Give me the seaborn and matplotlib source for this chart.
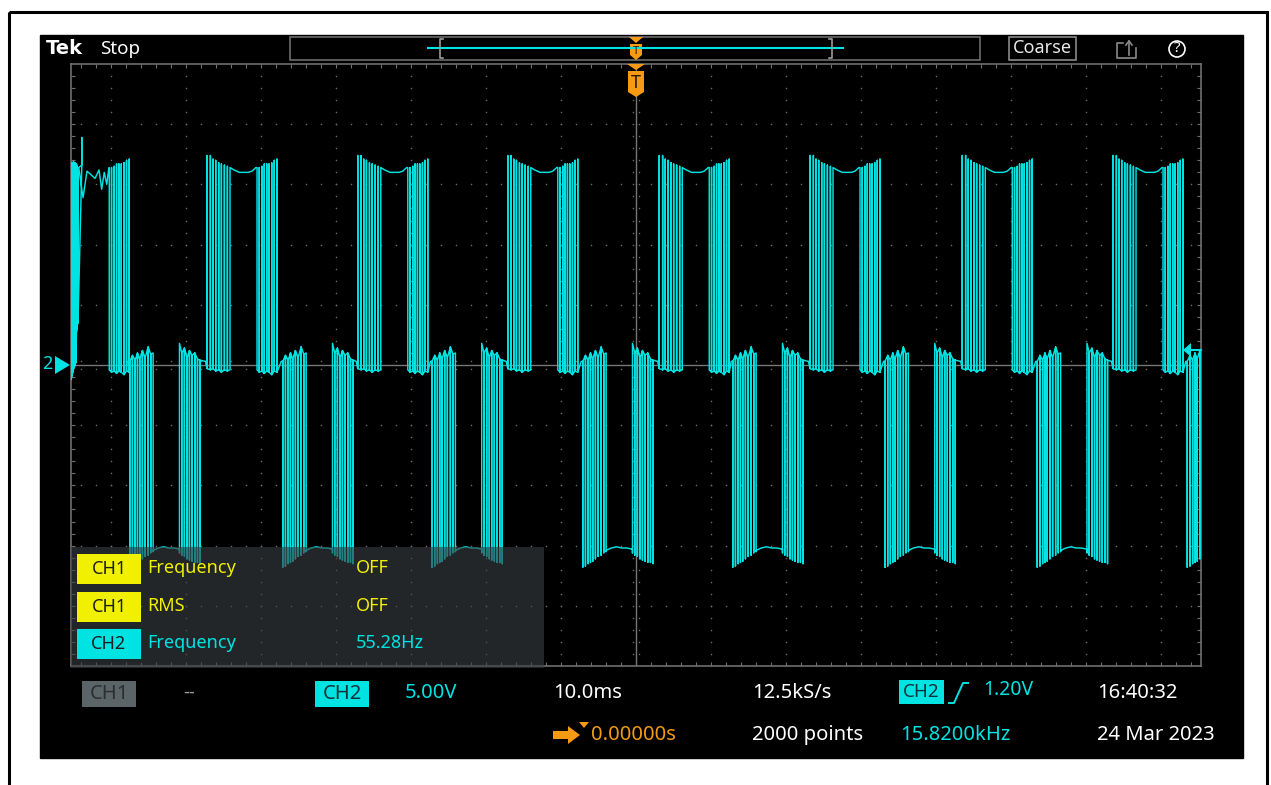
import numpy as np
import pandas as pd
import matplotlib
matplotlib.use("Agg")
import matplotlib.pyplot as plt
from matplotlib.patches import Rectangle, Polygon, Circle
import seaborn as sns

W, H = 1271, 785
FONT = ["Noto Sans", "DejaVu Sans"]
plt.rcParams["font.family"] = FONT

CYAN = "#00e3e3"
YELLOW = "#f0f000"
ORANGE = "#f59a12"
GRID = "#6a6a6a"

# ---------------- CH2 record (time in ms from trigger, volts) ----------------
# start of each positive and negative switching burst
high_starts = [-76.9, -57.2, -37.1, -17.1, 3.1, 23.2, 43.5, 63.6]
low_starts = [-67.5, -47.1, -27.2, -7.1, 12.9, 33.2, 53.5, 73.5]

# positive burst: leading edges, flat top, trailing edges (offsets in ms)
hi_lead_t = [0.0, 0.45, 0.80, 1.16, 1.56, 1.92, 2.32, 2.72, 3.07]
hi_lead_v = [17.4, 17.4, 17.1, 17.0, 16.8, 16.7, 16.6, 16.5, 16.4]
hi_lead_b = [-0.3, -0.4, -0.3, -0.5, -0.4, -0.6, -0.4, -0.5, -0.4]
hi_flat_t = [3.07, 3.6, 4.3, 4.9, 5.5, 6.0, 6.53]
hi_flat_v = [16.4, 16.2, 16.0, 16.0, 16.0, 16.1, 16.4]
hi_trail_t = [6.67, 6.97, 7.33, 7.64, 7.96, 8.27, 8.63, 8.97, 9.33]
hi_trail_v = [16.4, 16.4, 16.5, 16.7, 16.7, 16.7, 16.8, 17.0, 17.1]
hi_trail_b = [-0.4, -0.6, -0.5, -0.7, -0.5, -0.6, -0.8, -0.5, -0.6]

# negative burst
lo_lead_t = [0.0, 0.36, 0.72, 1.03, 1.33, 1.69, 2.05, 2.45, 2.80, 3.12]
lo_lead_v = [-16.8, -16.7, -16.5, -16.4, -16.3, -16.1, -15.9, -15.8, -15.6, -15.5]
lo_lead_b = [0.3, 0.8, 0.4, 1.0, 0.5, 1.2, 0.6, 1.5, 0.9, 1.0]
lo_flat_t = [3.12, 3.8, 4.5, 5.2, 5.9, 6.63]
lo_flat_v = [-15.4, -15.2, -15.1, -15.2, -15.2, -15.3]
lo_trail_t = [6.63, 6.93, 7.29, 7.64, 7.96, 8.31, 8.67, 9.03, 9.37]
lo_trail_v = [-15.6, -15.8, -15.9, -16.1, -16.2, -16.3, -16.4, -16.4, -16.5]
lo_trail_b = [1.8, 1.0, 1.4, 0.6, 1.2, 0.8, 1.0, 0.5, 0.4]

# start of record: dense edges, first spike and the ripple on the first flat top
start_t = [-75.3, -75.2, -75.1, -75.0, -74.9, -74.8, -74.7, -74.6, -74.5, -74.4]
start_v = [15.8, 16.8, 16.6, 16.9, 16.5, 16.8, 16.4, 16.7, 16.5, 16.4]
start_b = [-1.2, -0.9, -0.6, -0.3, -0.2, 0.0, 0.2, 2.8, 3.3, 3.5]
spike_t, spike_v = -73.9, 18.9
first_flat_t = [-74.3, -73.73, -73.2, -72.13, -71.6, -71.24, -70.9, -70.57, -70.3]
first_flat_v = [16.4, 13.9, 16.1, 15.5, 16.2, 14.6, 16.0, 15.0, 16.3]


def spikes(t0, offs, peaks, bases, pts):
    # each switching event shows as one vertical stroke from base to peak
    for o, p, b in zip(offs, peaks, bases):
        t = t0 + o
        pts += [(t, b), (t, p), (t, b)]


def burst(t0, lead, flat, trail, pts):
    (lt, lv, lb), (ft, fv), (tt, tv, tb) = lead, flat, trail
    spikes(t0, lt[:-1], lv[:-1], lb[:-1], pts)
    pts += [(t0 + lt[-1], lb[-1]), (t0 + lt[-1], lv[-1])]
    pts += [(t0 + o, v) for o, v in zip(ft, fv)]
    pts += [(t0 + tt[0], tv[0]), (t0 + tt[0], tb[0])]
    spikes(t0, tt[1:], tv[1:], tb[1:], pts)


pts = []
spikes(0, start_t, start_v, start_b, pts)
pts += [(spike_t, 16.4), (spike_t, spike_v), (spike_t, 16.6)]
pts += list(zip(first_flat_t, first_flat_v))
t0 = high_starts[0]
pts += [(t0 + hi_trail_t[0], hi_trail_v[0]), (t0 + hi_trail_t[0], hi_trail_b[0])]
spikes(t0, hi_trail_t[1:], hi_trail_v[1:], hi_trail_b[1:], pts)

HI = ((hi_lead_t, hi_lead_v, hi_lead_b), (hi_flat_t, hi_flat_v), (hi_trail_t, hi_trail_v, hi_trail_b))
LO = ((lo_lead_t, lo_lead_v, lo_lead_b), (lo_flat_t, lo_flat_v), (lo_trail_t, lo_trail_v, lo_trail_b))
events = sorted([(s, LO) for s in low_starts] + [(s, HI) for s in high_starts[1:]], key=lambda e: e[0])
for s, shape in events:
    pts.append((s - 0.2, 0.3))
    burst(s, *shape, pts)

trace = pd.DataFrame(pts, columns=["t", "v"])

# ---------------- figure ----------------
fig = plt.figure(figsize=(W / 100, H / 100), dpi=100)
bg = fig.add_axes([0, 0, 1, 1])
bg.set_xlim(0, W)
bg.set_ylim(H, 0)
bg.axis("off")
bg.add_patch(Rectangle((0, 0), W, H, color="white"))
bg.add_patch(Rectangle((9, 12), W - 13, H + 20, fill=False, ec="black", lw=2.2))
bg.add_patch(Rectangle((40, 35), 1203, 723, color="black"))

X0, X1, Y0, Y1 = 71, 1201, 64, 666
ax = fig.add_axes([X0 / W, 1 - Y1 / H, (X1 - X0) / W, (Y1 - Y0) / H])
ax.set_facecolor("black")
TMAX = (X1 - X0) / 2 / 7.5
ax.set_xlim(-TMAX, TMAX)
ax.set_ylim(-25, 25)

# graticule: dotted division lines, solid centre cross, ticked border
for k in range(-7, 8):
    if k:
        ax.scatter(np.full(49, 10 * k), np.arange(-24, 25), s=1.3, c=GRID, lw=0, zorder=1)
for k in (-4, -3, -2, -1, 1, 2, 3, 4):
    xs = np.arange(-74, 75, 2)
    ax.scatter(xs, np.full(xs.size, 5 * k), s=1.3, c=GRID, lw=0, zorder=1)
ax.axvline(0, color="#777777", lw=1.0, zorder=1)
ax.axhline(0, color="#777777", lw=1.0, zorder=1)
ax.scatter(np.arange(-74, 75, 2), np.full(75, 0.35), s=1.2, c=GRID, lw=0, zorder=1)
ax.scatter(np.arange(-74, 75, 2), np.full(75, -0.35), s=1.2, c=GRID, lw=0, zorder=1)
ax.scatter(np.full(49, 0.4), np.arange(-24, 25), s=1.2, c=GRID, lw=0, zorder=1)
ax.scatter(np.full(49, -0.4), np.arange(-24, 25), s=1.2, c=GRID, lw=0, zorder=1)
for sp in ax.spines.values():
    sp.set_color("#6e6e6e")
    sp.set_linewidth(1.2)
ax.set_xticks(np.arange(-74, 75, 2))
ax.set_yticks(np.arange(-24, 25, 1))
ax.tick_params(direction="in", length=3, width=0.8, color="#6e6e6e",
               top=True, right=True, labelbottom=False, labelleft=False)

sns.lineplot(data=trace, x="t", y="v", sort=False, estimator=None,
             color=CYAN, linewidth=1.05, ax=ax, zorder=3)
ax.set_xlabel("")
ax.set_ylabel("")
ax.set_xlim(-TMAX, TMAX)
ax.set_ylim(-25, 25)

# ---------------- screen furniture (pixel coordinates) ----------------
ov = fig.add_axes([0, 0, 1, 1])
ov.set_xlim(0, W)
ov.set_ylim(H, 0)
ov.axis("off")
ov.patch.set_alpha(0)


def txt(x, y, s, color="white", size=14, **kw):
    ov.text(x, y, s, color=color, fontsize=size, va="center", ha=kw.pop("ha", "left"), **kw)


def badge(x0, y0, x1, y1, fc, label, tc, size=14):
    ov.add_patch(Rectangle((x0, y0), x1 - x0, y1 - y0, color=fc, lw=0))
    txt((x0 + x1) / 2, (y0 + y1) / 2, label, tc, size, ha="center")


txt(46, 48, "Tek", size=14, fontweight="bold", family=["DejaVu Sans"])
txt(100, 49, "Stop", size=13.5)

# record view bar
ov.add_patch(Rectangle((290, 37), 690, 23, fill=False, ec="#6c6c6c", lw=1.2))
ov.plot([428, 843], [48, 48], color=CYAN, lw=1.5)
ov.plot([443, 440, 440, 443], [39, 39, 58, 58], color="#9a9a9a", lw=1.2)
ov.plot([829, 832, 832, 829], [39, 39, 58, 58], color="#9a9a9a", lw=1.2)


def trig_mark(xc, ytop, w, h):
    ov.add_patch(Polygon([(xc - w / 2, ytop), (xc + w / 2, ytop), (xc, ytop + 6)], color=ORANGE, lw=0))
    yb = ytop + 7
    ov.add_patch(Polygon([(xc - w / 2 + 1, yb), (xc + w / 2 - 1, yb), (xc + w / 2 - 1, yb + h - 5),
                          (xc, yb + h), (xc - w / 2 + 1, yb + h - 5)], color=ORANGE, lw=0))
    txt(xc, yb + h / 2 - 1, "T", "#2a1a00", size=h * 0.5, ha="center", fontweight="bold")


trig_mark(636, 37, 14, 16)
trig_mark(636, 64, 18, 26)

ov.add_patch(Rectangle((1009, 37), 67, 23, fill=False, ec="#8a8a8a", lw=1.2))
txt(1042.5, 48, "Coarse", "#e8e8e8", 13, ha="center")
ov.plot([1123, 1117, 1117, 1136, 1136], [43, 43, 58, 58, 48], color="#8a8a8a", lw=1.2)
ov.plot([1129, 1129], [55, 41], color="#8a8a8a", lw=1.2)
ov.plot([1126, 1129, 1132], [45, 41, 45], color="#8a8a8a", lw=1.2)
ov.add_patch(Circle((1177, 49), 8, fill=False, ec="white", lw=1.2))
txt(1177, 48.5, "?", "white", 11, ha="center")

# channel and trigger level markers
txt(47, 364, "2", CYAN, 13, ha="center")
ov.add_patch(Polygon([(55, 356), (55, 374), (70, 365)], color=CYAN, lw=0))
ov.add_patch(Polygon([(1183, 350), (1191, 343), (1191, 357)], color=CYAN, lw=0))
ov.plot([1190, 1201], [350, 350], color=CYAN, lw=1.5)

# measurement panel
ov.add_patch(Rectangle((71, 547), 473, 121, color="#3a3e41", alpha=0.62, lw=0))
rows = [(569, "CH1", YELLOW, "Frequency", "OFF"),
        (607, "CH1", YELLOW, "RMS", "OFF"),
        (644, "CH2", CYAN, "Frequency", "55.28Hz")]
for y, ch, col, name, val in rows:
    badge(77, y - 15, 141, y + 15, col, ch, "#1e1e1e", 13)
    txt(147, y - 1, name, col, 13)
    txt(356, y - 1, val, col, 13)

# status line
badge(82, 681, 136, 707, "#5b6467", "CH1", "#283034", 14.5)
txt(183, 693, "--", "#9a9a9a", 13)
badge(315, 681, 369, 707, CYAN, "CH2", "#103238", 14.5)
txt(405, 693, "5.00V", CYAN, 14.5)
txt(553, 693, "10.0ms", "white", 14.5)
txt(752, 693, "12.5kS/s", "white", 14.5)
badge(899, 680, 944, 704, CYAN, "CH2", "#103238", 13.5)
ov.plot([949, 954, 963, 968], [703, 703, 683, 683], color=CYAN, lw=1.4)
txt(983, 690, "1.20V", CYAN, 14)
txt(1097, 693, "16:40:32", "white", 14.5)

ov.add_patch(Polygon([(553, 731), (568, 731), (568, 726), (580, 735), (568, 744), (568, 739), (553, 739)],
                     color=ORANGE, lw=0))
ov.add_patch(Polygon([(579, 722), (589, 722), (584, 728)], color=ORANGE, lw=0))
txt(591, 735, "0.00000s", ORANGE, 14.5)
txt(752, 735, "2000 points", "white", 14.5)
txt(900, 735, "15.8200kHz", CYAN, 14.5)
txt(1097, 735, "24 Mar 2023", "white", 14.5)

fig.savefig("out.png", dpi=100, facecolor="white")
